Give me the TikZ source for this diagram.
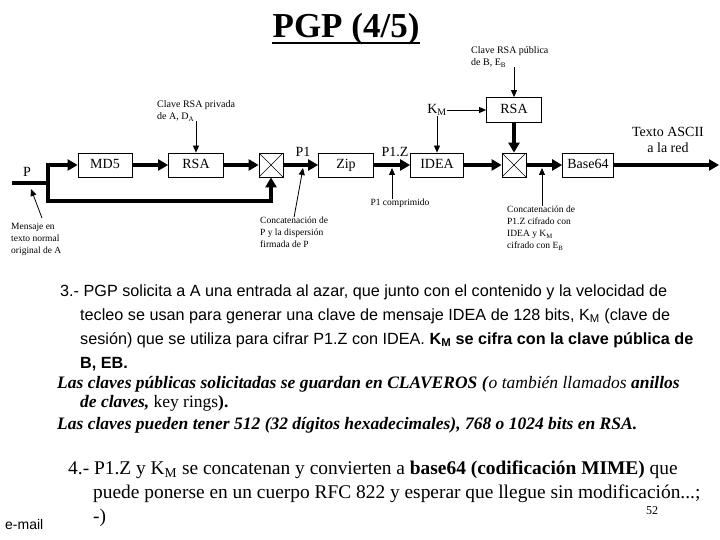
\documentclass[tikz,border=0pt]{standalone}
\usepackage{fontspec}
\setmainfont{Liberation Serif}
\setsansfont{Liberation Sans}
\usetikzlibrary{positioning, calc, arrows.meta}

\begin{document}
\begin{tikzpicture}[x=1pt, y=-1pt,
    blk/.style={draw, line width=0.8pt, minimum height=24pt, inner sep=0pt, text height=10pt, text depth=3pt, font=\fontsize{14}{16}\selectfont},
    mix/.style={draw, line width=0.8pt, minimum size=24pt, inner sep=0pt,
        path picture={\draw[line width=0.6pt] (path picture bounding box.north west) -- (path picture bounding box.south east)
            (path picture bounding box.south west) -- (path picture bounding box.north east);}},
    flow/.style={line width=3.5pt, -{Triangle[length=10pt,width=11pt]}},
    pipe/.style={line width=3.5pt},
    note/.style={line width=0.8pt, -{Triangle[length=7pt,width=6pt]}},
    small/.style={font=\fontsize{10}{12.5}\selectfont, align=left, inner sep=0pt},
    tiny/.style={font=\fontsize{9.5}{12}\selectfont, align=left, inner sep=0pt},
    sig/.style={font=\fontsize{14}{16}\selectfont, inner sep=0pt},
    body/.style={anchor=base west, inner sep=0pt},
    sans/.style={body, font=\sffamily\fontsize{16.2}{18}\selectfont},
    serif/.style={body, font=\fontsize{17.5}{20}\selectfont},
    roman/.style={body, font=\fontsize{19.4}{22}\selectfont}
]
\useasboundingbox (0,0) rectangle (720,540);

% title
\node[font=\fontsize{35}{40}\selectfont\bfseries, inner sep=0pt, anchor=base] (title) at (346,38) {PGP (4/5)};
\draw[line width=2.5pt] ([yshift=-5pt]title.base west) -- ([yshift=-5pt]title.base east);

% blocks of the chain
\foreach \n/\t/\x/\w in {md5/MD5/105/54, rsaa/RSA/196/55, zip/Zip/346/55, idea/IDEA/437/53, bsf/Base64/588/51} {
    \node[blk, minimum width=\w pt] (\n) at (\x,165) {\t};
}
\foreach \n/\x in {mxa/271, mxb/514} {
    \node[mix] (\n) at (\x,165) {};
}
\node[blk, minimum width=55pt, minimum height=25pt] (rsab) at (514,110) {RSA};

\coordinate (pin) at (12,183);
\coordinate (split) at (48,183);
\coordinate (low) at (271,201);
\coordinate (out) at (719,165);

\foreach \a/\b in {md5/rsaa, rsaa/mxa, mxa/zip, zip/idea, idea/mxb, mxb/bsf, bsf/out} {
    \draw[flow] (\a) -- (\b);
}
\draw[pipe] (pin) -- (split);
\draw[flow] (split) |- (md5);
\draw[flow] (split) |- (low) -- (mxa);
\draw[flow] (rsab) -- (mxb);

% signal labels
\node[sig] (p) at (27,172) {P};
\node[sig] (pone) at (303,152) {P1};
\node[sig] (ponez) at (395,152) {P1.Z};
\node[sig] (km) at (437,110) {K\textsubscript{M}};
\node[sig, align=center] (ascii) at (668,140) {Texto ASCII\\a la red};
\draw[note] (km) -- (rsab);
\draw[note] (km) -- (idea);

% keys
\node[small, anchor=north west] (kpriv) at (157,100) {Clave RSA privada\\de A, D\textsubscript{A}};
\draw[note] (kpriv.south -| rsaa) -- (rsaa);
\node[small, anchor=north west] (kpub) at (471,46) {Clave RSA pública\\de B, E\textsubscript{B}};
\draw[note] (kpub.south -| rsab) -- (rsab);

% notes under the chain
\node[tiny, anchor=north west] (msg) at (11,223) {Mensaje en\\texto normal\\original de A};
\coordinate (msgtail) at (42,218);
\coordinate (msgtip) at (31,189);
\draw[note] (msgtail) -- (msgtip);
\node[tiny, anchor=north west] (catp) at (260,217) {Concatenación de\\P y la dispersión\\firmada de P};
\coordinate (catptip) at (303,168);
\draw[note] (catp.north) -- (catptip);
\node[tiny, anchor=north] (pcomp) at (400,199) {P1 comprimido};
\coordinate (pctip) at (392,168);
\draw[note] (pcomp.north -| pctip) -- (pctip);
\node[tiny, anchor=north west] (catz) at (507,206) {Concatenación de\\P1.Z cifrado con\\IDEA y K\textsubscript{M}\\cifrado con E\textsubscript{B}};
\coordinate (catztip) at (542,168);
\draw[note] (catz.north -| catztip) -- (catztip);

% text of the slide
\node[sans] (la) at (60,296) {3.- PGP solicita a A una entrada al azar, que junto con el contenido y la velocidad de};
\node[sans] (lb) at (80,320) {tecleo se usan para generar una clave de mensaje IDEA de 128 bits, K\textsubscript{M} (clave de};
\node[sans] (lc) at (80,344) {sesión) que se utiliza para cifrar P1.Z con IDEA. \textbf{K\textsubscript{M} se cifra con la clave pública de}};
\node[sans] (ld) at (80,368) {\textbf{B, EB.}};
\node[serif] (le) at (57,388) {\textbf{\textit{Las claves públicas solicitadas se guardan en CLAVEROS (}}\textit{o también llamados} \textbf{\textit{anillos}}};
\node[serif] (lf) at (80,407) {\textbf{\textit{de claves,}} key rings\textbf{).}};
\node[serif] (lg) at (57,429) {\textbf{\textit{Las claves pueden tener 512 (32 dígitos hexadecimales), 768 o 1024 bits en RSA.}}};
\node[roman] (lh) at (68,474) {4.- P1.Z y K\textsubscript{M} se concatenan y convierten a \textbf{base64 (codificación MIME)} que};
\node[roman] (li) at (93,498) {puede ponerse en un cuerpo RFC 822 y esperar que llegue sin modificación...;};
\node[roman] (lj) at (93,522) {-)};
\node[body, font=\sffamily\fontsize{14}{16}\selectfont] (mail) at (5,529) {e-mail};
\node[body, font=\fontsize{12}{14}\selectfont] (page) at (646,514) {52};
\end{tikzpicture}
\end{document}
